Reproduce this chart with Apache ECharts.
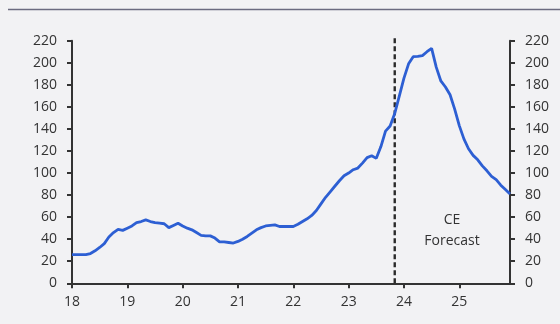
<!DOCTYPE html>
<html>
<head>
<meta charset="utf-8">
<script src="https://cdn.jsdelivr.net/npm/echarts@6/dist/echarts.min.js"></script>
<style>
  html, body { margin: 0; padding: 0; background: #f2f2f4; }
  #chart { width: 560px; height: 324px; }
</style>
</head>
<body>
<div id="chart"></div>
<script>
// Year tick labels (two-digit), one per January
var years = ['18', '19', '20', '21', '22', '23', '24', '25'];

// Monthly categories, Jan 2018 to Dec 2025
var months = [];
years.forEach(function (y) {
  for (var m = 1; m <= 12; m++) months.push('20' + y + '-' + (m < 10 ? '0' + m : m));
});

// Monthly series values (actual then forecast)
var values = [
  26, 26, 26, 26, 27, 29.5, 32.5, 36, 42, 46, 49, 48,
  50, 52, 55, 56, 57.5, 56, 55, 54.5, 54, 50.5, 52.5, 54.5,
  52, 50, 48.5, 46, 43.5, 43, 43, 41, 37.5, 37.5, 37, 36.5,
  38, 40, 42.5, 45.5, 48.5, 50.5, 52, 52.5, 53, 51.5, 51.5, 51.5,
  51.5, 53.5, 56, 58.5, 61.5, 66, 72, 78, 83, 88, 93, 97.5,
  100, 103, 104.5, 109, 114, 115.7, 113.3, 124, 138, 142.6, 154, 170,
  186, 199, 205.5, 205.8, 206.5, 210, 213, 196, 183.5, 178, 171, 158,
  143, 131, 122, 116, 112, 106.5, 102, 97, 94, 89, 85, 81
];

// Forecast divider: month it sits on, and its vertical span
var forecastStart = '2023-11';
var dividerSpan = [0, 224];

var ink = '#333333';
var font = '"Open Sans", "Noto Sans", sans-serif';

function yAxisCfg(pos) {
  return {
    type: 'value',
    position: pos,
    min: 0,
    max: 220,
    interval: 20,
    splitLine: { show: false },
    axisLine: { show: true, lineStyle: { color: ink, width: 2 } },
    axisTick: { show: true, length: 5, lineStyle: { color: ink, width: 2 } },
    axisLabel: { color: ink, fontSize: 14, fontFamily: font, margin: 15 }
  };
}

var chart = echarts.init(document.getElementById('chart'), null, { renderer: 'canvas' });
chart.setOption({
  backgroundColor: '#f2f2f4',
  animation: false,
  grid: { left: 72, right: 50, top: 40.7, bottom: 40.7, containLabel: false },
  xAxis: {
    type: 'category',
    data: months,
    boundaryGap: false,
    axisLine: { lineStyle: { color: ink, width: 2 } },
    axisTick: {
      show: true,
      length: 5,
      interval: function (i) { return i % 12 === 0; },
      lineStyle: { color: ink, width: 2 }
    },
    axisLabel: {
      interval: function (i) { return i % 12 === 0; },
      formatter: function (v, i) { return years[Math.floor(i / 12)]; },
      color: ink,
      fontSize: 14,
      fontFamily: font,
      margin: 12
    },
    splitLine: { show: false }
  },
  yAxis: [yAxisCfg('left'), yAxisCfg('right')],
  graphic: [
    { type: 'line', shape: { x1: 8, y1: 9.5, x2: 560, y2: 9.5 }, style: { stroke: '#6b6b80', lineWidth: 1.5 } },
    {
      type: 'text', x: 452, y: 220,
      style: { text: 'CE', fill: ink, font: '14px ' + font, textAlign: 'center', textVerticalAlign: 'middle' }
    },
    {
      type: 'text', x: 452, y: 241.5,
      style: { text: 'Forecast', fill: ink, font: '14px ' + font, textAlign: 'center', textVerticalAlign: 'middle' }
    }
  ],
  series: [
    {
      type: 'line',
      data: values,
      yAxisIndex: 0,
      symbol: 'none',
      z: 3,
      lineStyle: { color: '#2d5fd3', width: 2.8 }
    },
    {
      // dashed vertical divider where the forecast begins
      type: 'line',
      data: [[forecastStart, dividerSpan[0]], [forecastStart, dividerSpan[1]]],
      yAxisIndex: 0,
      symbol: 'none',
      clip: false,
      silent: true,
      z: 2,
      lineStyle: { color: '#2a2a2a', width: 2.4, type: [5, 3] }
    }
  ]
});
</script>
</body>
</html>
